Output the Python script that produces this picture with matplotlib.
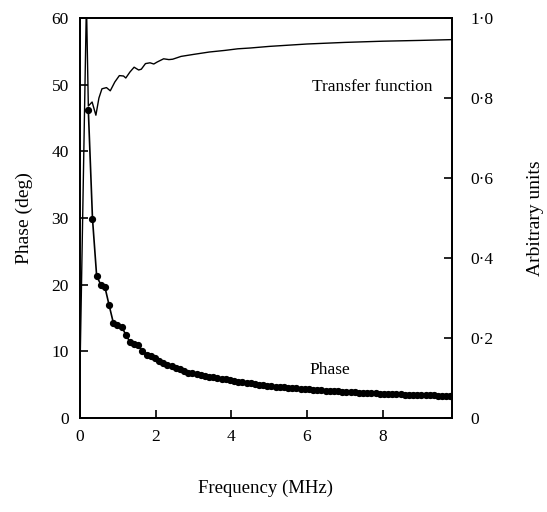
import numpy as np
import matplotlib.pyplot as plt

plt.rcParams['font.family'] = ['Liberation Serif', 'DejaVu Serif']

# phase (deg) vs frequency (MHz)
freq = [0.22, 0.33, 0.44, 0.55, 0.66, 0.77, 0.88, 0.99, 1.10, 1.21,
        1.32, 1.43, 1.54, 1.65, 1.76, 1.87, 1.98, 2.09, 2.20, 2.31,
        2.42, 2.53, 2.64, 2.75, 2.86, 2.97, 3.08, 3.19, 3.30, 3.41,
        3.52, 3.63, 3.74, 3.85, 3.96, 4.07, 4.18, 4.29, 4.40, 4.51,
        4.62, 4.73, 4.84, 4.95, 5.06, 5.17, 5.28, 5.39, 5.50, 5.61,
        5.72, 5.83, 5.94, 6.05, 6.16, 6.27, 6.38, 6.49, 6.60, 6.71,
        6.82, 6.93, 7.04, 7.15, 7.26, 7.37, 7.48, 7.59, 7.70, 7.81,
        7.92, 8.03, 8.14, 8.25, 8.36, 8.47, 8.58, 8.69, 8.80, 8.91,
        9.02, 9.13, 9.24, 9.35, 9.46, 9.57, 9.68, 9.79]
phase = [46.2, 29.9, 21.3, 20.0, 19.6, 16.9, 14.3, 13.9, 13.7, 12.5,
         11.4, 11.1, 10.9, 10.0, 9.5, 9.3, 9.0, 8.5, 8.3, 8.0,
         7.8, 7.5, 7.3, 7.1, 6.8, 6.7, 6.6, 6.45, 6.3, 6.2,
         6.1, 6.0, 5.9, 5.8, 5.7, 5.55, 5.45, 5.35, 5.25, 5.18,
         5.1, 5.0, 4.93, 4.85, 4.78, 4.72, 4.66, 4.6, 4.54, 4.48,
         4.43, 4.38, 4.33, 4.28, 4.23, 4.18, 4.14, 4.1, 4.06, 4.02,
         3.98, 3.94, 3.91, 3.88, 3.85, 3.82, 3.79, 3.76, 3.73, 3.7,
         3.67, 3.64, 3.62, 3.59, 3.57, 3.54, 3.52, 3.5, 3.48, 3.46,
         3.44, 3.42, 3.4, 3.38, 3.36, 3.34, 3.32, 3.3]

# transfer function (arbitrary units)
tf_freq = [0.0, 0.17, 0.22, 0.32, 0.42, 0.50, 0.58, 0.70, 0.80, 0.92,
           1.04, 1.15, 1.21, 1.32, 1.43, 1.55, 1.62, 1.73, 1.85, 1.95,
           2.04, 2.21, 2.35, 2.45, 2.67, 3.0, 3.42, 3.83, 4.17, 4.5,
           5.0, 6.0, 7.0, 8.0, 9.0, 9.85]
tf = [0.12, 1.04, 0.78, 0.79, 0.757, 0.80, 0.823, 0.826, 0.818, 0.84,
      0.856, 0.855, 0.850, 0.865, 0.877, 0.870, 0.872, 0.886, 0.888, 0.885,
      0.890, 0.898, 0.896, 0.897, 0.904, 0.909, 0.915, 0.919, 0.923, 0.925,
      0.929, 0.935, 0.939, 0.942, 0.944, 0.946]

fig = plt.figure(figsize=(5.47, 5.12), dpi=100)
ax = fig.add_axes([80/547, 94/512, 372/547, 400/512])
ax2 = ax.twinx()

ax.plot(freq, phase, 'k-', lw=1.2, marker='o', ms=4.2, zorder=3)
ax2.plot(tf_freq, tf, 'k-', lw=1.0)

ax.set_xlim(0, 9.83)
ax.set_ylim(0, 60)
ax2.set_ylim(0, 1.0)
ax.set_xticks([0, 2, 4, 6, 8])
ax.set_yticks([0, 10, 20, 30, 40, 50, 60])
ax2.set_yticks([0, 0.2, 0.4, 0.6, 0.8, 1.0])
ax2.set_yticklabels(['0', '0·2', '0·4', '0·6', '0·8', '1·0'])

for a in (ax, ax2):
    a.tick_params(direction='in', length=6, width=1.2, labelsize=12.5, pad=8)
    for s in a.spines.values():
        s.set_linewidth(1.3)
ax.tick_params(axis='y', right=False)
ax2.tick_params(axis='y', pad=13)

ax.set_xlabel('Frequency (MHz)', fontsize=13.5, labelpad=25)
ax.set_ylabel('Phase (deg)', fontsize=14, labelpad=13)
ax2.set_ylabel('Arbitrary units', fontsize=14, labelpad=24)

ax.text(7.72, 49.6, 'Transfer function', fontsize=12.5, ha='center', va='center')
ax.text(6.6, 7.2, 'Phase', fontsize=12.5, ha='center', va='center')

fig.savefig('out.png', dpi=100)
